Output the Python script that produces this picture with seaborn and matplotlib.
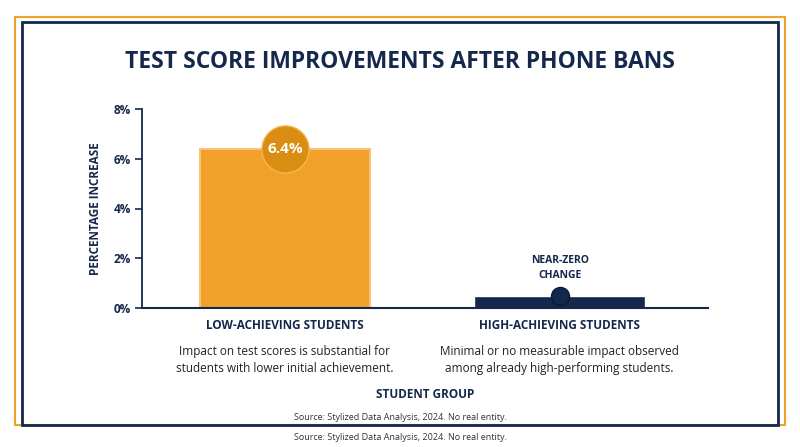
import matplotlib
matplotlib.use("Agg")
import matplotlib.pyplot as plt
import seaborn as sns
import pandas as pd
from matplotlib.patches import Rectangle

groups = ["LOW-ACHIEVING STUDENTS", "HIGH-ACHIEVING STUDENTS"]
values = [6.4, 0.5]
descs = ["Impact on test scores is substantial for\nstudents with lower initial achievement.",
         "Minimal or no measurable impact observed\namong already high-performing students."]
yticks = [0, 2, 4, 6, 8]
NAVY = "#14284b"
ORANGE = "#f0a12a"

sns.set_style("white")
plt.rcParams['font.family'] = ['Open Sans', 'DejaVu Sans']

fig = plt.figure(figsize=(8, 4.47), dpi=100)
fig.patch.set_facecolor("white")
fig.add_artist(Rectangle((15/800, 1-425/447), 770/800, (425-17)/447, transform=fig.transFigure,
                         fill=False, ec=ORANGE, lw=1.5))
fig.add_artist(Rectangle((22/800, 1-425/447), 756/800, (425-22)/447, transform=fig.transFigure,
                         fill=False, ec=NAVY, lw=2))

ax = fig.add_axes([142/800, 1-308/447, 566/800, 199/447])
df = pd.DataFrame({"group": groups, "value": values})
sns.barplot(data=df, x="group", y="value", hue="group", palette=[ORANGE, NAVY],
            width=0.62, ax=ax, legend=False, saturation=1)
ax.set_xlim(-0.52, 1.54)
ax.set_ylim(0, 8)
ax.set_yticks(yticks)
ax.set_yticklabels([f"{v}%" for v in yticks], fontsize=8.5, fontweight="bold", color=NAVY)
ax.tick_params(axis="y", length=5, width=1.2, color=NAVY, pad=3, left=True)
ax.set_xticks([0, 1])
ax.set_xticklabels(groups, fontsize=8.5, fontweight="bold", color=NAVY)
ax.tick_params(axis="x", length=0, pad=8)
for s in ["top", "right"]:
    ax.spines[s].set_visible(False)
ax.spines["left"].set_color(NAVY); ax.spines["left"].set_linewidth(1.3)
ax.spines["bottom"].set_color(NAVY); ax.spines["bottom"].set_linewidth(1.5)
ax.set_xlabel("STUDENT GROUP", fontsize=8.5, fontweight="bold", color=NAVY, labelpad=40)
ax.set_ylabel("PERCENTAGE INCREASE", fontsize=8.5, fontweight="bold", color=NAVY, labelpad=8)
ax.patches[0].set_edgecolor("#f7c27a"); ax.patches[0].set_linewidth(1.5)

ax.plot([0], [values[0]], marker="o", markersize=34, color="#d98d12", mec="#f5b850", mew=1, clip_on=False, zorder=5)
ax.text(0, values[0], f"{values[0]}%", ha="center", va="center", fontsize=11, fontweight="bold", color="white", zorder=6)
ax.plot([1], [values[1]], marker="o", markersize=13, color=NAVY, mec="#0a1a35", mew=1, clip_on=False, zorder=5)
ax.text(1, values[1] + 0.6, "NEAR-ZERO\nCHANGE", ha="center", va="bottom", fontsize=7.5, fontweight="bold", color=NAVY, linespacing=1.4)

for i, d in enumerate(descs):
    ax.text(i, -1.5, d, ha="center", va="top", fontsize=8.5, color="#222222", linespacing=1.35)

fig.text(0.5, 1-62/447, "TEST SCORE IMPROVEMENTS AFTER PHONE BANS", ha="center", va="center",
         fontsize=16.5, fontweight="bold", color=NAVY)
fig.text(0.5, 1-418/447, "Source: Stylized Data Analysis, 2024. No real entity.", ha="center", va="center", fontsize=6.5, color="#333333")
fig.text(0.5, 1-438/447, "Source: Stylized Data Analysis, 2024. No real entity.", ha="center", va="center", fontsize=6.5, color="#333333")

fig.savefig("out.png", dpi=100, facecolor="white")
